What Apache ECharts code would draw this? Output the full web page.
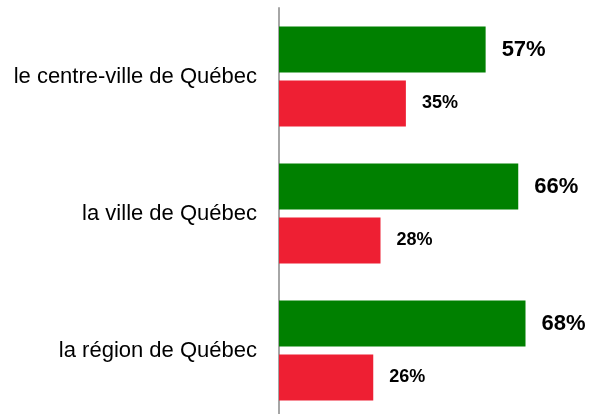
<!DOCTYPE html>
<html>
<head>
  <meta charset="utf-8">
  <title>Québec</title>
  <script src="https://cdn.jsdelivr.net/npm/echarts@6/dist/echarts.min.js"></script>
  <style type="text/css">
    html, body { margin: 0; padding: 0; background: #fff; }
    #chart { width: 589px; height: 414px; }
  </style>
</head>
<body>
  <div id="chart"></div>
  <script>
    // données
    var categories = ['le centre-ville de Québec', 'la ville de Québec', 'la région de Québec'];
    var greenValues = [57, 66, 68];
    var redValues = [35, 28, 26];

    var myChart = echarts.init(document.getElementById('chart'));
    var option = {
      animation: false,
      grid: { left: 279, width: 290, top: 8, height: 411, containLabel: false, outerBoundsMode: 'none' },
      xAxis: {
        type: 'value',
        min: 0,
        max: 80,
        show: false
      },
      yAxis: {
        type: 'category',
        inverse: true,
        data: categories,
        axisLine: { show: true, lineStyle: { color: '#a6a6a6', width: 2 } },
        axisTick: { show: false },
        axisLabel: {
          margin: 22,
          color: '#000',
          fontFamily: 'Liberation Sans',
          fontSize: 22
        }
      },
      series: [
        {
          type: 'bar',
          data: greenValues,
          barWidth: 46,
          barGap: '17%',
          itemStyle: { color: '#008000' },
          label: {
            show: true,
            position: 'right',
            distance: 16,
            formatter: '{c}%',
            color: '#000',
            fontWeight: 'bold',
            fontFamily: 'Liberation Sans',
            fontSize: 22
          }
        },
        {
          type: 'bar',
          data: redValues,
          barWidth: 46,
          barGap: '17%',
          itemStyle: { color: '#ee1f33' },
          label: {
            show: true,
            position: 'right',
            distance: 16,
            formatter: '{c}%',
            color: '#000',
            fontWeight: 'bold',
            fontFamily: 'Liberation Sans',
            fontSize: 18
          }
        }
      ]
    };
    myChart.setOption(option);
  </script>
</body>
</html>
